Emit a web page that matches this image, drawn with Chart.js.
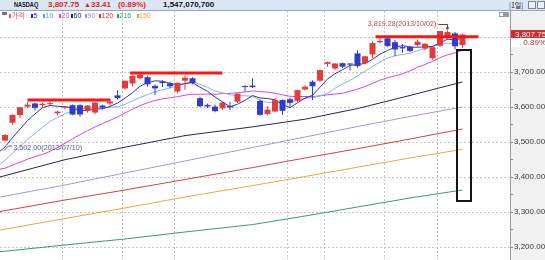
<!DOCTYPE html>
<html lang="ko">
<head>
<meta charset="utf-8">
<title>NASDAQ</title>
<script src="https://cdn.jsdelivr.net/npm/chart.js@4.4.1/dist/chart.umd.min.js"></script>
<style>
html,body{margin:0;padding:0;background:#fff;}
#wrap{position:relative;width:545px;height:260px;overflow:hidden;font-family:"Liberation Sans","DejaVu Sans",sans-serif;}
#hdr{position:absolute;left:0;top:0;width:545px;height:10px;background:#dbe6f4;border-bottom:1px solid #9aa6b8;}
#hdr .t{position:absolute;top:0;height:10px;line-height:10px;font-size:8px;font-weight:bold;white-space:nowrap;}
#hdr .btn{position:absolute;top:1px;width:6px;height:6px;border:1px solid #7d8794;background:#eef1f5;}
#chartBox{position:absolute;left:0;top:11px;width:545px;height:249px;}
#leg{position:absolute;left:0;top:11px;width:220px;height:10px;}
#leg .sq{position:absolute;top:3px;width:2px;height:4px;}
#leg .lt{position:absolute;top:1px;font-size:7px;line-height:8px;white-space:nowrap;font-family:"Liberation Sans","Noto Sans CJK KR",sans-serif;}
.ico{position:absolute;}
</style>
</head>
<body>
<div id="wrap">
  <div id="hdr">
    <span class="t" id="hName" style="left:14px;color:#111;transform:scaleX(0.7);transform-origin:0 0;"></span>
    <span class="t" id="hClose" style="left:48px;color:#e01e1e;"></span>
    <span class="t" id="hArrow" style="left:84px;color:#e01e1e;font-size:7px;">▲</span>
    <span class="t" id="hChg" style="left:91px;color:#e01e1e;"></span>
    <span class="t" id="hPct" style="left:118px;color:#e01e1e;"></span>
    <span class="t" id="hVol" style="left:163px;color:#111;"></span>
    <span class="t" id="hPer" style="left:509px;color:#222;font-weight:normal;font-family:'Noto Sans CJK KR','Liberation Sans',sans-serif;font-size:7px;"></span>
    <span class="btn" style="left:528px;"></span>
    <span class="btn" style="left:537px;"></span>
  </div>
  <div id="chartBox"><canvas id="c" width="545" height="249"></canvas></div>
  <div id="leg"></div>
  <div class="ico" style="left:2px;top:12px;width:5px;height:3px;background:#777;"></div>
  <div class="ico" style="left:499px;top:12px;width:3px;height:3px;border:1px solid #999;background:#fff;"></div>
  <div class="ico" style="left:504px;top:12px;width:5px;height:5px;background:#9a9a9a;"></div>
</div>
<script>
// ---------------- data ----------------
const dates = [
  '2013/07/10','2013/07/11','2013/07/12','2013/07/15','2013/07/16','2013/07/17','2013/07/18','2013/07/19',
  '2013/07/22','2013/07/23','2013/07/24','2013/07/25','2013/07/26','2013/07/29','2013/07/30','2013/07/31',
  '2013/08/01','2013/08/02','2013/08/05','2013/08/06','2013/08/07','2013/08/08','2013/08/09','2013/08/12',
  '2013/08/13','2013/08/14','2013/08/15','2013/08/16','2013/08/19','2013/08/20','2013/08/21','2013/08/22',
  '2013/08/23','2013/08/26','2013/08/27','2013/08/28','2013/08/29','2013/08/30','2013/09/03','2013/09/04',
  '2013/09/05','2013/09/06','2013/09/09','2013/09/10','2013/09/11','2013/09/12','2013/09/13','2013/09/16',
  '2013/09/17','2013/09/18','2013/09/19','2013/09/20','2013/09/23','2013/09/24','2013/09/25','2013/09/26',
  '2013/09/27','2013/09/30','2013/10/01','2013/10/02','2013/10/03','2013/10/04'
];
const opens = [
  3505.0,3556.0,3578.0,3602.0,3611.0,3606.0,3609.0,3583.0,3599.0,3606.0,3606.0,3590.0,3585.0,3605.0,3611.0,3634.0,
  3654.0,3668.0,3683.0,3686.0,3661.0,3673.0,3668.0,3645.0,3676.0,3683.0,3626.0,3607.0,3602.0,3597.0,3604.0,3616.0,
  3660.0,3662.0,3618.0,3581.0,3588.0,3621.0,3623.0,3619.0,3651.0,3673.0,3676.0,3724.0,3711.0,3726.0,3724.0,3754.0,
  3726.0,3751.0,3786.0,3797.0,3786.0,3772.0,3773.0,3778.0,3768.0,3740.0,3776.0,3797.0,3811.0,3778.0
];
const highs = [
  3523.5,3579.5,3601.5,3615.0,3614.0,3614.0,3622.5,3590.0,3604.0,3608.0,3609.0,3606.0,3615.0,3607.0,3625.0,3649.0,
  3676.5,3690.5,3697.5,3690.0,3665.0,3677.0,3672.0,3671.0,3691.0,3686.0,3630.0,3610.0,3608.0,3615.0,3615.0,3640.0,
  3663.0,3683.0,3622.0,3604.0,3626.0,3622.0,3627.0,3651.0,3663.0,3677.0,3708.0,3730.5,3726.0,3728.0,3726.0,3763.0,
  3747.0,3788.0,3798.0,3799.0,3792.0,3780.0,3776.0,3794.0,3783.0,3775.0,3818.0,3819.28,3815.0,3810.0
];
const lows = [
  3502.0,3550.0,3570.0,3598.0,3591.0,3600.0,3605.0,3577.0,3594.0,3577.0,3573.0,3585.0,3580.0,3595.0,3605.0,3622.0,
  3650.0,3660.0,3680.0,3659.0,3635.0,3658.0,3655.0,3640.0,3650.0,3665.0,3600.0,3598.0,3586.0,3593.0,3592.0,3612.0,
  3645.0,3655.0,3575.0,3577.0,3585.0,3579.0,3600.0,3615.0,3648.0,3621.0,3672.0,3716.0,3706.0,3712.0,3705.0,3714.0,
  3722.0,3740.0,3782.0,3773.0,3746.0,3756.0,3758.0,3774.0,3763.0,3736.0,3772.0,3792.0,3765.0,3770.0
];
const closes = [
  3520.76,3578.30,3600.08,3607.49,3598.50,3610.00,3611.28,3587.61,3600.39,3579.27,3579.60,3605.19,3613.16,3599.14,3616.47,3626.37,
  3675.74,3689.59,3692.95,3665.77,3654.01,3669.12,3660.11,3669.95,3684.44,3669.27,3602.78,3602.25,3589.09,3613.59,3599.79,3638.71,
  3657.79,3657.57,3578.52,3593.35,3620.30,3589.87,3612.61,3649.04,3658.85,3660.01,3706.18,3729.02,3725.01,3715.97,3722.18,3717.85,
  3745.70,3783.64,3789.38,3774.73,3765.29,3768.25,3761.10,3787.43,3781.59,3771.48,3817.98,3815.02,3774.34,3807.75
];
// short moving averages, one value per day starting the day before the first candle
const shortMaStart = -1;
const ma5 = [
  3469.1,3486.6,3513.5,3537.6,3562.2,3581.0,3598.9,3605.5,3603.0,3601.6,3597.7,3591.6,3590.4,3595.5,3595.3,3602.7,
  3612.1,3626.2,3641.5,3660.2,3670.1,3675.6,3674.3,3668.4,3663.8,3667.5,3670.6,3657.3,3645.7,3629.6,3615.4,3601.5,
  3608.7,3619.8,3633.5,3626.5,3625.2,3621.5,3607.9,3598.9,3613.0,3626.1,3634.1,3657.3,3680.6,3695.8,3707.2,3719.7,
  3722.0,3725.3,3737.1,3751.8,3762.3,3771.7,3776.3,3771.8,3771.4,3772.7,3774.0,3783.9,3794.7,3792.1,3797.3
];
const ma10 = [
  3430.9,3448.2,3468.4,3488.2,3508.7,3525.1,3542.7,3559.5,3570.3,3581.9,3589.4,3595.3,3597.9,3599.2,3598.4,3600.2,
  3601.8,3608.3,3618.5,3627.7,3636.4,3643.8,3650.2,3654.9,3662.0,3668.8,3673.1,3665.8,3657.1,3646.7,3641.5,3636.0,
  3633.0,3632.8,3631.5,3620.9,3613.3,3615.1,3613.9,3616.2,3619.8,3625.7,3627.8,3632.6,3639.8,3654.4,3666.7,3676.9,
  3689.7,3703.0,3716.4,3729.5,3741.0,3746.9,3750.8,3754.4,3761.6,3767.5,3772.9,3780.1,3783.2,3781.7,3785.0
];
const ma20 = [
  3421.8,3426.0,3434.9,3442.6,3451.8,3459.1,3465.5,3473.9,3485.1,3497.2,3510.1,3521.7,3533.2,3543.7,3553.5,3562.6,
  3572.3,3583.9,3594.4,3604.8,3612.9,3619.5,3624.1,3627.1,3630.2,3634.5,3637.5,3637.0,3637.8,3637.2,3638.9,3639.9,
  3641.6,3643.8,3646.8,3644.9,3643.2,3640.4,3635.5,3631.4,3630.6,3630.9,3630.4,3632.7,3635.7,3637.7,3640.0,3646.0,
  3651.8,3659.6,3668.1,3677.6,3684.4,3689.8,3695.3,3704.4,3714.1,3722.2,3731.3,3741.5,3749.8,3755.6,3763.0
];
// long moving averages at these day indices
const longMaIdx = [-1, 8, 16, 24, 33, 40, 47, 54, 61];
const ma60  = [3399.1, 3450.3, 3486.0, 3519.1, 3544.0, 3566.0, 3596.3, 3633.7, 3672.5];
const ma90  = [3342.3, 3378.0, 3412.3, 3446.6, 3485.1, 3515.1, 3545.1, 3573.7, 3600.9];
const ma120 = [3300.9, 3335.1, 3363.7, 3393.7, 3427.7, 3455.1, 3481.7, 3509.4, 3538.0];
const ma150 = [3248.0, 3282.3, 3312.3, 3343.7, 3376.3, 3402.3, 3428.9, 3455.1, 3480.0];
const ma216 = [3186.6, 3206.6, 3223.7, 3243.7, 3264.9, 3289.4, 3315.1, 3340.9, 3363.7];

const seriesNames = ['가격', '5', '10', '20', '60', '90', '120', '216', '150'];
const yTicks = [3200, 3250, 3300, 3350, 3400, 3450, 3500, 3550, 3600, 3650, 3700, 3750, 3800];
const yTickLabels = [3200, 3300, 3400, 3500, 3600, 3700];
const gridDayIdx = [7.6, 15.65, 22.65, 37.7, 42.6, 50.6, 57.7];
// drawn resistance lines: [from day, to day, price]
const resistFrom  = [3.0, 16.67, 49.4];
const resistTo    = [14.0, 28.97, 63.13];
const resistPrice = [3621, 3698, 3801.5];
// drawn box around the latest averages: day range and price range
const boxDays   = [60.23, 62.09];
const boxPrices = [3763, 3333];
const quoteName = 'NASDAQ';
const quoteChange = 33.41;
const quoteChangePct = 0.89;
const quoteVolume = 1547070700;
const quotePeriod = '1일';

// ---------------- styles ----------------
const C = {
  up: '#e23b3b', down: '#2e3dcc',
  ma5: '#3434b4', ma10: '#80b6e6', ma20: '#dc44dc', ma60: '#25255f',
  ma90: '#b290e2', ma120: '#d3404c', ma150: '#f0a63e', ma216: '#3a9a70',
  resist: '#ff1414', grid: '#c6c6c6'
};
const legendColors = ['#e35a5a', '#2222d0', '#5ea2e6', '#dc40dc', '#22226a', '#a58ae6', '#e03030', '#2a9a62', '#f0a030'];
const legendX = [9, 31, 43, 59, 71, 85, 99, 117, 136.5];

const fmt2 = v => v.toLocaleString('en-US', {minimumFractionDigits: 2, maximumFractionDigits: 2});
const lastClose = closes[closes.length - 1];

// header
document.getElementById('hName').textContent = quoteName;
document.getElementById('hClose').textContent = fmt2(lastClose);
document.getElementById('hChg').textContent = quoteChange.toFixed(2);
document.getElementById('hPct').textContent = '(' + quoteChangePct.toFixed(2) + '%)';
document.getElementById('hVol').textContent = quoteVolume.toLocaleString('en-US');
document.getElementById('hPer').textContent = '|' + quotePeriod + '|';

// legend
const leg = document.getElementById('leg');
seriesNames.forEach((n, i) => {
  const sq = document.createElement('span');
  sq.className = 'sq'; sq.style.left = legendX[i] + 'px'; sq.style.background = legendColors[i];
  const t = document.createElement('span');
  t.className = 'lt'; t.style.left = (legendX[i] + 2.5) + 'px'; t.style.color = legendColors[i];
  t.textContent = n;
  leg.appendChild(sq); leg.appendChild(t);
});

// ---------------- datasets ----------------
const dayIdx = closes.map((_, i) => i);
const candleColors = closes.map((c, i) => c >= opens[i] ? C.up : C.down);
const shortPts = arr => arr.map((v, k) => ({x: shortMaStart + k, y: v}));
const longPts = arr => arr.map((v, k) => ({x: longMaIdx[k], y: v}));
const lineDs = (data, color, width, order) => ({
  type: 'line', data, borderColor: color, borderWidth: width, pointRadius: 0,
  tension: 0, fill: false, order, borderCapStyle: 'butt'
});

const datasets = [
  {type: 'bar', data: dayIdx.map(i => ({x: i, y: [opens[i], closes[i]]})), backgroundColor: candleColors,
   barThickness: 6, grouped: false, minBarLength: 1, borderWidth: 0, inflateAmount: 0, order: 2},
  {type: 'bar', data: dayIdx.map(i => ({x: i, y: [lows[i], highs[i]]})), backgroundColor: candleColors,
   barThickness: 1, grouped: false, borderWidth: 0, inflateAmount: 0, order: 3},
  lineDs(shortPts(ma5), C.ma5, 1, 5),
  lineDs(shortPts(ma10), C.ma10, 1, 5),
  lineDs(shortPts(ma20), C.ma20, 1, 5),
  lineDs(longPts(ma60), C.ma60, 1, 5),
  lineDs(longPts(ma90), C.ma90, 1, 5),
  lineDs(longPts(ma120), C.ma120, 1, 5),
  lineDs(longPts(ma150), C.ma150, 1, 5),
  lineDs(longPts(ma216), C.ma216, 1, 5)
];
resistPrice.forEach((p, k) => {
  datasets.push(lineDs([{x: resistFrom[k], y: p}, {x: resistTo[k], y: p}], C.resist, 3, 1));
});

// ---------------- overlay plugin ----------------
const overlay = {
  id: 'overlay',
  beforeDraw(chart) {
    const {ctx, chartArea: a, width, height} = chart;
    ctx.save();
    ctx.fillStyle = '#f1f1f1';
    ctx.fillRect(a.right, 0, width - a.right, height);
    ctx.restore();
  },
  afterDatasetsDraw(chart) {
    const {ctx, scales: {x, y}} = chart;
    ctx.save();
    // box
    const bx1 = Math.round(x.getPixelForValue(boxDays[0])), bx2 = Math.round(x.getPixelForValue(boxDays[1]));
    const by1 = Math.round(y.getPixelForValue(boxPrices[0])), by2 = Math.round(y.getPixelForValue(boxPrices[1]));
    ctx.strokeStyle = '#151515'; ctx.lineWidth = 2;
    ctx.strokeRect(bx1, by1, bx2 - bx1, by2 - by1);

    ctx.font = '7.2px "Liberation Sans"';
    ctx.textBaseline = 'middle';
    // highest high
    const hi = highs.indexOf(Math.max(...highs));
    const hx = x.getPixelForValue(hi), hy = y.getPixelForValue(highs[hi]);
    const hty = hy - 7;
    ctx.fillStyle = '#c9463f'; ctx.strokeStyle = '#8a3030'; ctx.lineWidth = 1;
    ctx.textAlign = 'right';
    ctx.fillText(fmt2(highs[hi]) + '(' + dates[hi] + ')', hx - 11, hty);
    ctx.beginPath();
    ctx.moveTo(hx - 9, Math.round(hty) + 0.5); ctx.lineTo(Math.round(hx) - 0.5, Math.round(hty) + 0.5);
    ctx.lineTo(Math.round(hx) - 0.5, Math.round(hty) + 4);
    ctx.stroke();
    ctx.fillStyle = '#8a3030';
    ctx.beginPath();
    ctx.moveTo(Math.round(hx) - 2.5, Math.round(hty) + 3.5); ctx.lineTo(Math.round(hx) + 1.5, Math.round(hty) + 3.5);
    ctx.lineTo(Math.round(hx) - 0.5, Math.round(hty) + 6);
    ctx.closePath(); ctx.fill();

    // lowest low
    const lo = lows.indexOf(Math.min(...lows));
    const lx = x.getPixelForValue(lo), ly = y.getPixelForValue(lows[lo]);
    const lty = ly + 6.5;
    ctx.fillStyle = '#4a5888'; ctx.strokeStyle = '#4a5888';
    ctx.textAlign = 'left';
    ctx.fillText(fmt2(lows[lo]) + '(' + dates[lo] + ')', lx + 8.3, lty);
    ctx.beginPath();
    ctx.moveTo(lx + 7, lty - 2); ctx.lineTo(lx + 3.5, lty - 2); ctx.lineTo(lx - 1, lty + 2.5);
    ctx.stroke();
    ctx.restore();
  },
  afterDraw(chart) {
    const {ctx, chartArea: a, width, scales: {y}} = chart;
    const py = y.getPixelForValue(lastClose);
    ctx.save();
    ctx.fillStyle = '#d22b2b';
    ctx.fillRect(a.right + 1, Math.round(py) - 5, width - a.right - 1, 8);
    ctx.fillStyle = '#ffffff';
    ctx.fillRect(a.right + 1, Math.round(py) + 3, width - a.right - 1, 9);
    ctx.font = '8px "Liberation Sans"';
    ctx.textBaseline = 'middle';
    ctx.textAlign = 'left';
    ctx.fillStyle = '#ffffff';
    ctx.fillText(fmt2(lastClose), a.right + 5, Math.round(py) - 0.5);
    ctx.textAlign = 'right';
    ctx.fillStyle = '#a83030';
    ctx.fillText(quoteChangePct.toFixed(2) + '%', width + 1, Math.round(py) + 8);
    ctx.restore();
  }
};

new Chart(document.getElementById('c'), {
  type: 'line',
  data: {datasets},
  options: {
    responsive: false,
    animation: false,
    events: [],
    layout: {padding: 0},
    plugins: {legend: {display: false}, tooltip: {enabled: false}},
    scales: {
      x: {
        type: 'linear', min: -0.667, max: 67.333, offset: false,
        afterBuildTicks: s => { s.ticks = gridDayIdx.map(v => ({value: v})); },
        afterFit: s => { s.height = 0; s.paddingLeft = 0; s.paddingRight = 0; },
        ticks: {display: false},
        grid: {color: C.grid, drawTicks: false, offset: false, lineWidth: 1},
        border: {display: false, dash: [2, 2]}
      },
      y: {
        type: 'linear', position: 'right', min: 3163.7, max: 3875.1,
        afterBuildTicks: s => { s.ticks = yTicks.map(v => ({value: v})); },
        afterFit: s => { s.width = 35; s.paddingTop = 0; s.paddingBottom = 0; },
        ticks: {
          autoSkip: false, padding: 1, color: '#3a3a3a',
          font: {family: 'Liberation Sans', size: 8},
          callback: v => yTickLabels.includes(v) ? fmt2(v) : ''
        },
        grid: {
          color: c => (c.tick && c.tick.value % 100 === 0) ? C.grid : 'rgba(0,0,0,0)',
          tickColor: '#8a8a8a', tickLength: 3, drawTicks: true, lineWidth: 1
        },
        border: {display: true, color: '#9a9a9a', width: 1, dash: [2, 2]}
      }
    }
  },
  plugins: [overlay]
});
</script>
</body>
</html>
